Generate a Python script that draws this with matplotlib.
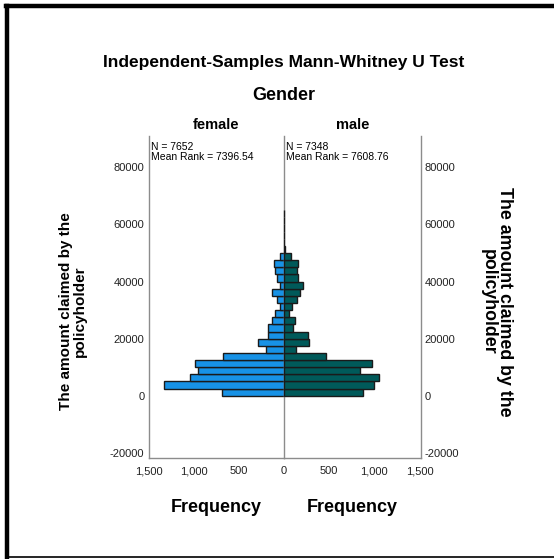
import matplotlib
matplotlib.use("Agg")
import matplotlib.pyplot as plt
from matplotlib.lines import Line2D
import numpy as np

plt.rcParams['font.family'] = ['Liberation Sans', 'DejaVu Sans']

# bin lower edges of the claimed amount (width 2500)
bin_starts = [0, 2500, 5000, 7500, 10000, 12500, 15000, 17500, 20000, 22500,
              25000, 27500, 30000, 32500, 35000, 37500, 40000, 42500, 45000, 47500,
              50000, 52500, 55000, 57500, 60000, 62500]
bin_width = 2500
female_counts = [693, 1341, 1044, 963, 996, 681, 196, 293, 181, 181,
                 133, 96, 48, 81, 130, 48, 81, 96, 107, 48,
                 0, 0, 0, 0, 0, 0]
male_counts = [874, 993, 1052, 837, 970, 470, 130, 274, 263, 104,
               126, 59, 93, 141, 178, 215, 152, 141, 152, 78,
               6, 4, 0, 0, 5, 4]

groups = ["female", "male"]
n_labels = ["N = 7652\nMean Rank = 7396.54", "N = 7348\nMean Rank = 7608.76"]
y_ticks = [-20000, 0, 20000, 40000, 60000, 80000]
x_ticks = [0, 500, 1000, 1500]
x_tick_labels = ["0", "500", "1,000", "1,500"]

female_color = "#1792E6"
male_color = "#005A5A"
spine_color = "#8c8c8c"

W, H = 554, 559
fig = plt.figure(figsize=(W / 100, H / 100), dpi=100)

def fx(px):
    return px / W

def fy(py):
    return 1 - py / H

ax_bottom = fy(458)
ax_top = fy(136)
ax_h = ax_top - ax_bottom
left_x0, center_x, right_x1 = fx(148.5), fx(284), fx(420.5)

axL = fig.add_axes([left_x0, ax_bottom, center_x - left_x0, ax_h])
axR = fig.add_axes([center_x, ax_bottom, right_x1 - center_x, ax_h], sharey=axL)

ylim = (-21800, 91000)
xmax = 1510

centers = np.array(bin_starts) + bin_width / 2
axL.barh(centers, female_counts, height=bin_width, color=female_color,
         edgecolor="#1a1a1a", linewidth=1.0, zorder=3)
axR.barh(centers, male_counts, height=bin_width, color=male_color,
         edgecolor="#1a1a1a", linewidth=1.0, zorder=3)

axL.set_xlim(xmax, 0)
axR.set_xlim(0, xmax)
axL.set_ylim(*ylim)

for ax in (axL, axR):
    ax.spines['top'].set_visible(False)
    for s in ('left', 'right', 'bottom'):
        ax.spines[s].set_color(spine_color)
        ax.spines[s].set_linewidth(1.0)
    ax.set_xticks(x_ticks)
    ax.set_xticklabels(x_tick_labels)
    ax.tick_params(axis='both', length=0, labelsize=8, pad=6, colors='#222222')

axL.spines['right'].set_visible(False)
axR.spines['right'].set_visible(True)
axR.spines['left'].set_color(spine_color)
axL.set_yticks(y_ticks)
axL.set_yticklabels([str(v) for v in y_ticks])
axL.tick_params(axis='y', pad=3)
axR.yaxis.tick_right()
axR.tick_params(axis='y', labelright=True, labelleft=False, pad=3)
axR.set_xticks([500, 1000, 1500])
axR.set_xticklabels(x_tick_labels[1:])

# axis labels
axL.set_xlabel("Frequency", fontsize=13, fontweight='bold', labelpad=16)
axR.set_xlabel("Frequency", fontsize=13, fontweight='bold', labelpad=16)

# group headers and N boxes
for ax, g, t in zip((axL, axR), groups, n_labels):
    ax.text(0.5, 1.0 + 4 / 322, g, transform=ax.transAxes, ha='center', va='bottom',
            fontsize=10.5, fontweight='bold')
    ax.text(0.015, 1.0 - 6 / 322, t, transform=ax.transAxes,
            ha='left', va='top', fontsize=7.5, linespacing=1.0)

fig.text(fx(284), fy(63), "Independent-Samples Mann-Whitney U Test",
         ha='center', va='center', fontsize=12.5, fontweight='bold')
fig.text(fx(284), fy(96), "Gender", ha='center', va='center',
         fontsize=13, fontweight='bold')

fig.text(fx(73), fy(311), "The amount claimed by the\npolicyholder", rotation=90,
         ha='center', va='center', fontsize=11, fontweight='bold',
         linespacing=0.95, multialignment='center')
fig.text(fx(496), fy(302), "The amount claimed by the\npolicyholder", rotation=270,
         ha='center', va='center', fontsize=12.8, fontweight='bold',
         linespacing=0.95, multialignment='center')

# outer frame of the screenshot
fig.add_artist(Line2D([fx(7), fx(7)], [fy(6), fy(557)], color='black', lw=3.2,
                      transform=fig.transFigure))
fig.add_artist(Line2D([fx(5.5), 1], [fy(6), fy(6)], color='black', lw=3.2,
                      transform=fig.transFigure))
fig.add_artist(Line2D([fx(5.5), 1], [fy(557), fy(557)], color='black', lw=1.2,
                      transform=fig.transFigure))

fig.savefig("out.png", dpi=100)
